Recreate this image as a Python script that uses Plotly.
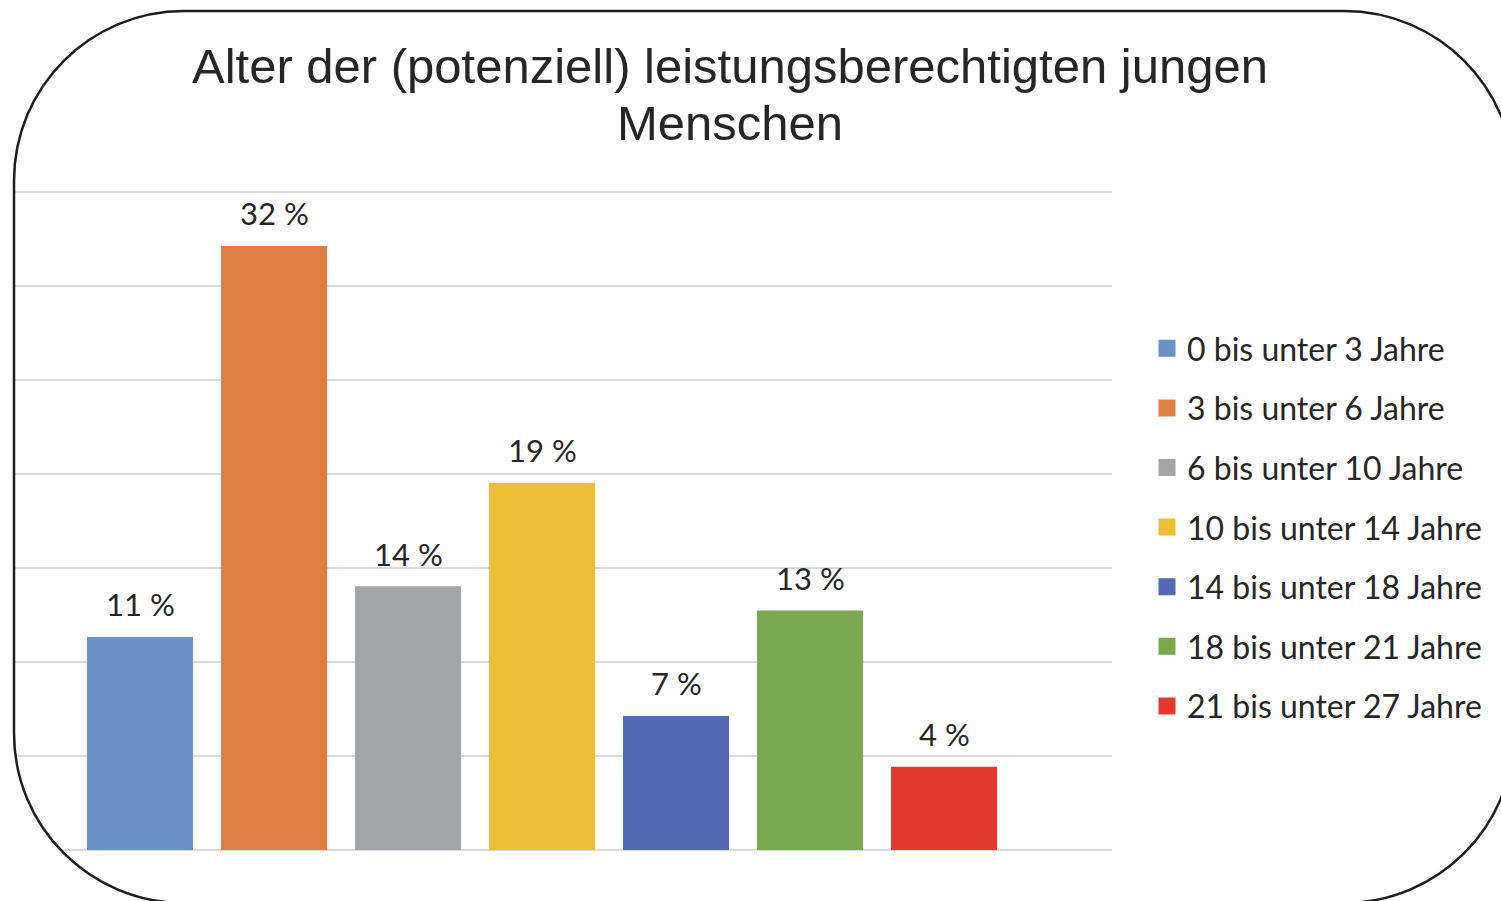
import plotly.graph_objects as go

# ---- data ----
categories = ["0 bis unter 3 Jahre", "3 bis unter 6 Jahre", "6 bis unter 10 Jahre",
              "10 bis unter 14 Jahre", "14 bis unter 18 Jahre", "18 bis unter 21 Jahre",
              "21 bis unter 27 Jahre"]
values = [11.2, 32.0, 13.9, 19.4, 7.0, 12.6, 4.3]
labels = ["11 %", "32 %", "14 %", "19 %", "7 %", "13 %", "4 %"]
colors = ["#6A91C8", "#DD7F42", "#A4A5A9", "#EDBF36", "#546BB4", "#7AA84F", "#E4392F"]
title_lines = ["Alter der (potenziell) leistungsberechtigten jungen", "Menschen"]

# ---- geometry (pixels) ----
W, H = 1501, 901
L, R, T, B = 14, 1112, 189, 850   # plot area edges in px
PW, PH = R - L, B - T
YMAX = 35 * PH / 658.0


def px(xp):
    return (xp - L) / PW


def py(yp):
    return (B - yp) / PH


fig = go.Figure()
for i, (c, v, col) in enumerate(zip(categories, values, colors)):
    fig.add_trace(go.Bar(
        x=[c], y=[v], name=c, legendgroup=c,
        marker=dict(color=col, line=dict(color=col, width=5)),
        width=0.754, hoverinfo="skip", cliponaxis=True,
    ))
    fig.add_annotation(x=c, y=v, xref="x", yref="y", text=labels[i],
                       showarrow=False, yanchor="bottom", yshift=14,
                       font=dict(family="Lato", size=31, color="#262626"))

# title (two lines)
for line, top in zip(title_lines, [37, 94]):
    fig.add_annotation(x=px(730), y=py(top), xref="paper", yref="paper",
                       text=line, showarrow=False, xanchor="center", yanchor="top",
                       font=dict(family="Liberation Sans", size=49, color="#262626"))

# rounded border
x0, y0, x1, y1, r = 14, 11, 1514, 903, 170
k = 0.5523 * r


def P(xv, yv):
    return f"{px(xv):.5f},{py(yv):.5f}"


border = (f"M {P(x0 + r, y0)} L {P(x1 - r, y0)} "
          f"C {P(x1 - r + k, y0)} {P(x1, y0 + r - k)} {P(x1, y0 + r)} "
          f"L {P(x1, y1 - r)} "
          f"C {P(x1, y1 - r + k)} {P(x1 - r + k, y1)} {P(x1 - r, y1)} "
          f"L {P(x0 + r, y1)} "
          f"C {P(x0 + r - k, y1)} {P(x0, y1 - r + k)} {P(x0, y1 - r)} "
          f"L {P(x0, y0 + r)} "
          f"C {P(x0, y0 + r - k)} {P(x0 + r - k, y0)} {P(x0 + r, y0)} Z")
# white mask outside bottom-left corner
mask = (f"M {P(0, y1 - r)} L {P(x0, y1 - r)} "
        f"C {P(x0, y1 - r + k)} {P(x0 + r - k, y1)} {P(x0 + r, y1)} "
        f"L {P(0, y1)} Z")
fig.add_shape(type="path", path=mask, xref="paper", yref="paper",
              fillcolor="white", line=dict(width=0), layer="above")
fig.add_shape(type="path", path=border, xref="paper", yref="paper",
              line=dict(color="#1e1e1e", width=2.5), layer="above")

fig.update_layout(
    width=W, height=H,
    margin=dict(l=L, r=W - R, t=T, b=H - B, pad=0),
    paper_bgcolor="white", plot_bgcolor="white",
    barmode="overlay",
    showlegend=True,
    legend=dict(x=px(1147), y=py(321), xanchor="left", yanchor="top",
                font=dict(family="Lato", size=32, color="#262626"),
                tracegroupgap=15, itemclick=False, itemdoubleclick=False,
                bgcolor="rgba(0,0,0,0)"),
    xaxis=dict(showticklabels=False, showgrid=False, zeroline=False, showline=False,
               range=[-(140 - L) / 134, (R - 140) / 134], fixedrange=True),
    yaxis=dict(range=[0, YMAX], dtick=5, showticklabels=False, showgrid=True,
               gridcolor="#D9D9D9", gridwidth=2, zeroline=True, zerolinecolor="#D9D9D9",
               zerolinewidth=2, showline=False, fixedrange=True),
)

fig.write_html("out.html", config={"displayModeBar": False},
               post_script="document.body.style.margin='0';document.body.style.overflow='hidden';")
